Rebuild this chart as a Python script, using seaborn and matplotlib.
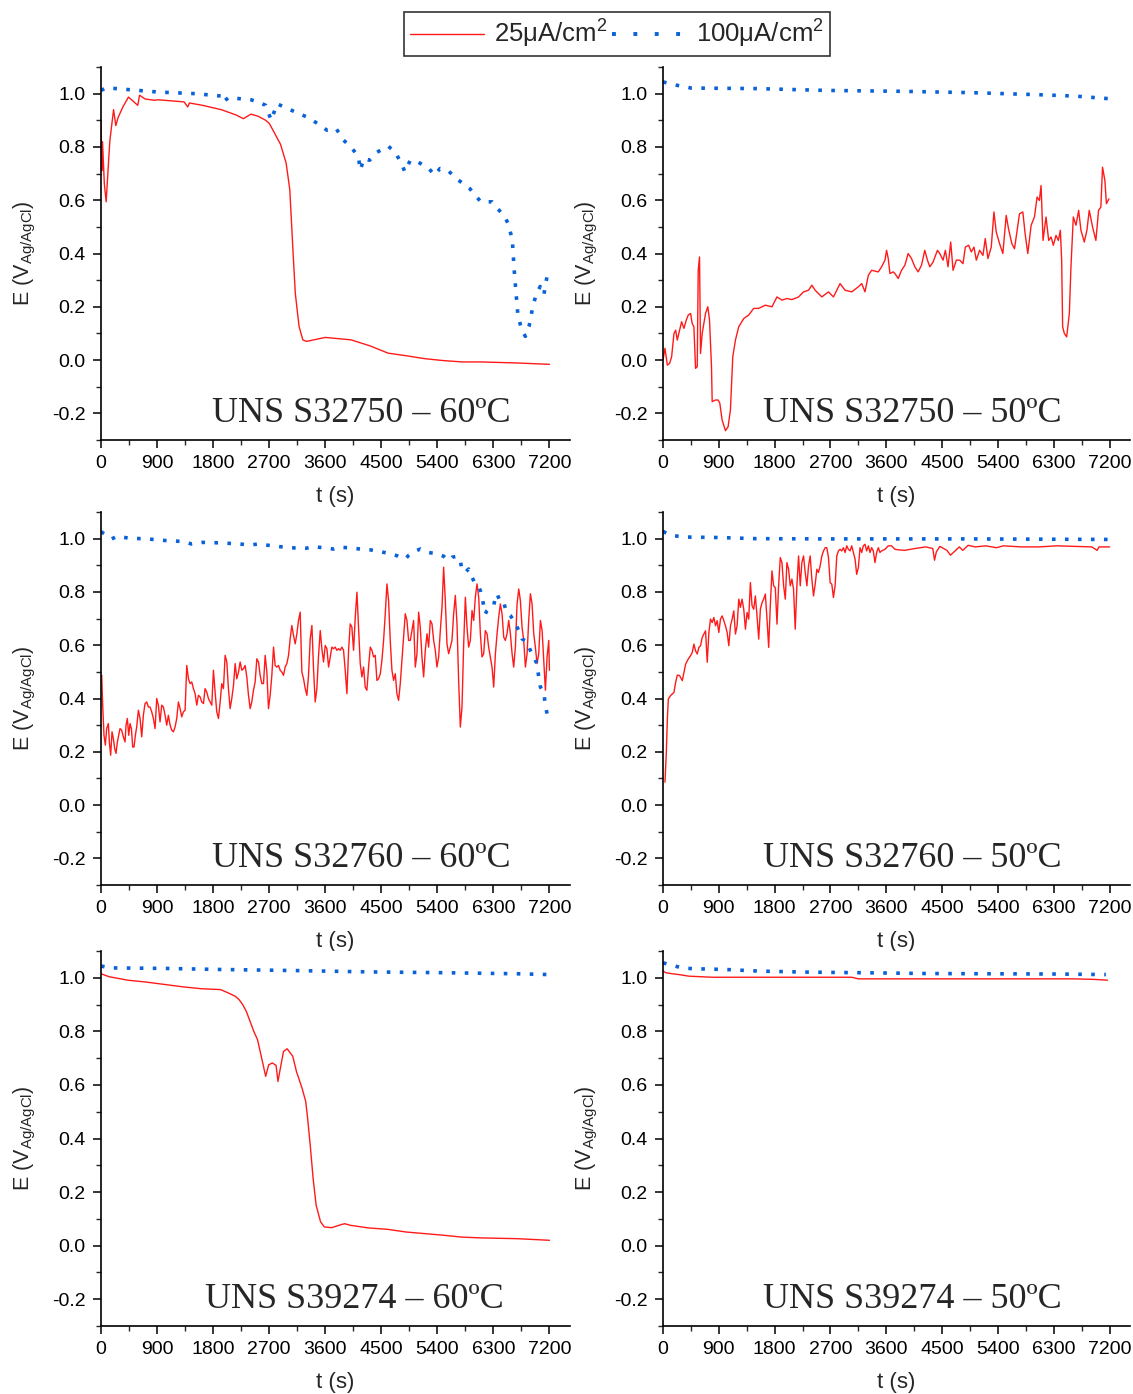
import numpy as np
import pandas as pd
import matplotlib
matplotlib.use("Agg")
import matplotlib.pyplot as plt
from matplotlib.lines import Line2D
from matplotlib.ticker import MultipleLocator
import seaborn as sns

# ---------------- data ----------------
x_ticks = [0, 900, 1800, 2700, 3600, 4500, 5400, 6300, 7200]
y_ticks = [-0.2, 0.0, 0.2, 0.4, 0.6, 0.8, 1.0]
series_labels = ["25\u03bcA/cm$^2$", "100\u03bcA/cm$^2$"]
panel_titles = ["UNS S32750 \u2013 60\u00baC", "UNS S32750 \u2013 50\u00baC",
                "UNS S32760 \u2013 60\u00baC", "UNS S32760 \u2013 50\u00baC",
                "UNS S39274 \u2013 60\u00baC", "UNS S39274 \u2013 50\u00baC"]

# Panel 1: UNS S32750 - 60C
p1_red_t = [0, 12, 24, 54, 83, 125, 143, 202, 238, 274,
            351, 441, 500, 590, 619, 708, 857, 917, 1334, 1393,
            1420, 1632, 1929, 2168, 2287, 2406, 2525, 2644, 2703, 2882,
            2972, 3031, 3090, 3120, 3180, 3240, 3300, 3600, 4013, 4311,
            4609, 4907, 5205, 5502, 5800, 6100, 6693, 7200]
p1_red_E = [0.90, 0.71, 0.82, 0.66, 0.594, 0.76, 0.825, 0.94, 0.88, 0.91,
            0.95, 0.987, 0.975, 0.956, 0.994, 0.98, 0.975, 0.977, 0.969, 0.95,
            0.965, 0.956, 0.94, 0.92, 0.906, 0.923, 0.915, 0.90, 0.888, 0.81,
            0.74, 0.64, 0.376, 0.25, 0.126, 0.076, 0.07, 0.085, 0.076, 0.054,
            0.026, 0.016, 0.005, -0.002, -0.007, -0.007, -0.011, -0.016]
p1_blue_t = [0, 83, 917, 1513, 1929, 1959, 2049, 2406, 2525, 2644,
             2733, 2793, 2823, 2942, 3120, 3299, 3478, 3627, 3775, 3895,
             4014, 4133, 4163, 4222, 4311, 4431, 4609, 4728, 4847, 4877,
             4966, 5086, 5264, 5354, 5443, 5562, 5741, 5919, 6098, 6277,
             6366, 6485, 6545, 6604, 6634, 6664, 6693, 6753, 6813, 6872,
             6932, 6991, 7051, 7110, 7170, 7200]
p1_blue_E = [1.012, 1.022, 1.006, 1.0, 0.991, 0.969, 0.985, 0.977, 0.969, 0.956,
             0.90, 0.94, 0.962, 0.95, 0.931, 0.913, 0.888, 0.863, 0.869, 0.825,
             0.80, 0.763, 0.713, 0.757, 0.75, 0.78, 0.803, 0.78, 0.725, 0.707,
             0.75, 0.744, 0.719, 0.694, 0.719, 0.713, 0.675, 0.644, 0.594, 0.594,
             0.569, 0.538, 0.507, 0.45, 0.338, 0.25, 0.17, 0.114, 0.089, 0.126,
             0.2, 0.25, 0.276, 0.245, 0.326, 0.33]

# Panel 2: UNS S32750 - 50C
p2_red_t = [0, 32, 70, 107, 139, 177, 204, 230, 268, 300,
            338, 375, 407, 445, 471, 498, 525, 552, 568, 589,
            605, 632, 686, 723, 750, 782, 793, 846, 889, 916,
            953, 1007, 1050, 1087, 1125, 1168, 1221, 1302, 1382, 1462,
            1543, 1650, 1757, 1837, 1918, 1998, 2078, 2186, 2266, 2346,
            2400, 2454, 2561, 2668, 2748, 2855, 2936, 3043, 3150, 3204,
            3257, 3311, 3364, 3471, 3525, 3579, 3605, 3632, 3659, 3712,
            3739, 3793, 3846, 3900, 3953, 4007, 4061, 4114, 4168, 4221,
            4264, 4302, 4355, 4425, 4462, 4516, 4553, 4596, 4639, 4677,
            4730, 4784, 4837, 4875, 4928, 4971, 5014, 5052, 5105, 5159,
            5196, 5239, 5293, 5336, 5373, 5427, 5480, 5534, 5571, 5625,
            5668, 5748, 5802, 5839, 5882, 5936, 5989, 6032, 6069, 6096,
            6128, 6176, 6219, 6257, 6294, 6337, 6375, 6407, 6428, 6444,
            6471, 6509, 6552, 6578, 6616, 6659, 6702, 6739, 6793, 6835,
            6873, 6927, 6980, 7023, 7060, 7087, 7125, 7150, 7190]
p2_red_E = [0.0, 0.044, -0.019, -0.012, 0.012, 0.1, 0.112, 0.075, 0.112, 0.144,
            0.119, 0.15, 0.169, 0.175, 0.137, 0.125, -0.031, -0.025, 0.337, 0.387,
            0.025, 0.1, 0.175, 0.2, 0.15, -0.025, -0.156, -0.15, -0.15, -0.162,
            -0.225, -0.265, -0.25, -0.187, 0.012, 0.075, 0.125, 0.156, 0.169, 0.194,
            0.194, 0.206, 0.2, 0.237, 0.225, 0.231, 0.227, 0.237, 0.256, 0.262,
            0.281, 0.262, 0.237, 0.256, 0.237, 0.287, 0.262, 0.256, 0.275, 0.287,
            0.256, 0.318, 0.337, 0.331, 0.35, 0.375, 0.412, 0.381, 0.325, 0.331,
            0.325, 0.306, 0.337, 0.356, 0.4, 0.381, 0.35, 0.331, 0.356, 0.412,
            0.375, 0.35, 0.368, 0.412, 0.4, 0.375, 0.412, 0.35, 0.443, 0.337,
            0.375, 0.375, 0.362, 0.424, 0.431, 0.406, 0.424, 0.375, 0.412, 0.393,
            0.456, 0.381, 0.424, 0.556, 0.481, 0.437, 0.4, 0.543, 0.493, 0.437,
            0.418, 0.549, 0.556, 0.474, 0.4, 0.506, 0.537, 0.612, 0.599, 0.655,
            0.449, 0.537, 0.449, 0.462, 0.431, 0.468, 0.449, 0.487, 0.375, 0.125,
            0.1, 0.087, 0.175, 0.35, 0.537, 0.506, 0.562, 0.487, 0.443, 0.487,
            0.562, 0.499, 0.449, 0.562, 0.574, 0.724, 0.674, 0.587, 0.605]
p2_blue_t = [0, 120, 230, 340, 450, 1500, 2650, 3780, 4920, 6060, 6630, 7200]
p2_blue_E = [1.044, 1.037, 1.031, 1.027, 1.021, 1.019, 1.012, 1.009, 1.004, 0.996, 0.991, 0.981]

# Panel 3: UNS S32760 - 60C
p3_red_t = [0, 11, 27, 48, 70, 91, 118, 134, 155, 177, 198, 220, 241, 263, 284, 305,
            332, 359, 386, 402, 423, 445, 466, 488, 509, 530, 552, 573, 600, 627,
            654, 680, 707, 734, 761, 787, 814, 841, 868, 895, 921, 948, 975, 1002,
            1029, 1055, 1082, 1109, 1136, 1163, 1189, 1216, 1243, 1270, 1296, 1323,
            1350, 1377, 1404, 1430, 1457, 1484, 1511, 1538, 1564, 1591, 1618, 1645,
            1671, 1698, 1725, 1752, 1779, 1805, 1832, 1859, 1886, 1913, 1939, 1966,
            1993, 2020, 2046, 2073, 2100, 2127, 2154, 2180, 2207, 2234, 2261, 2288,
            2314, 2341, 2368, 2395, 2421, 2448, 2475, 2502, 2529, 2555, 2582, 2609,
            2636, 2663, 2689, 2716, 2743, 2770, 2796, 2823, 2850, 2877, 2904, 2930,
            2957, 2984, 3011, 3037, 3064, 3091, 3118, 3145, 3171, 3198, 3225, 3252,
            3279, 3305, 3332, 3359, 3386, 3412, 3439, 3466, 3493, 3520, 3546, 3573,
            3600, 3627, 3654,
            3707, 3734, 3760, 3787, 3814, 3841, 3867, 3894, 3921, 3948, 3975, 4001,
            4028, 4055, 4082, 4109, 4135, 4162, 4189, 4216, 4242, 4269, 4296, 4323,
            4350, 4376, 4403, 4430, 4457, 4484, 4510, 4537, 4564, 4591, 4617, 4644,
            4671, 4698, 4725, 4751, 4778, 4805, 4832, 4859, 4885, 4912, 4939, 4966,
            4992, 5019, 5046, 5073, 5100, 5126, 5153, 5180, 5207, 5234, 5260, 5287,
            5314, 5341, 5367, 5394, 5421, 5448, 5475, 5501, 5528, 5555, 5582, 5609,
            5635, 5662, 5689, 5716, 5742, 5769, 5796, 5823, 5850, 5876, 5903, 5930,
            5957, 5984, 6010, 6037, 6064, 6091, 6117, 6144, 6171, 6198, 6224, 6251,
            6278, 6305, 6332, 6359, 6385, 6412, 6439, 6466, 6492, 6519, 6546, 6573,
            6600, 6626, 6653, 6680, 6707, 6733, 6760, 6787, 6814, 6841, 6867, 6894,
            6921, 6948, 6974, 7001, 7028, 7055, 7082, 7108, 7135, 7162, 7189, 7200]
p3_red_E = [0.48, 0.487, 0.375, 0.262, 0.225, 0.287, 0.306, 0.237, 0.187, 0.275, 0.25, 0.212,
            0.194, 0.237, 0.262, 0.287, 0.281, 0.256, 0.237, 0.3, 0.325, 0.262, 0.306,
            0.287, 0.218, 0.218, 0.262, 0.293, 0.356, 0.325, 0.256, 0.337, 0.381, 0.387,
            0.368, 0.368, 0.35, 0.325, 0.287, 0.4, 0.375, 0.312, 0.375, 0.368, 0.337,
            0.3, 0.337, 0.3, 0.281, 0.275, 0.293, 0.325, 0.387, 0.362, 0.331, 0.35,
            0.356, 0.524, 0.474, 0.456, 0.462, 0.437, 0.418, 0.375, 0.412, 0.406,
            0.387, 0.381, 0.437, 0.424, 0.4, 0.387, 0.375, 0.506, 0.424, 0.35, 0.325,
            0.387, 0.456, 0.437, 0.562, 0.537, 0.437, 0.362, 0.4, 0.449, 0.531, 0.474,
            0.499, 0.537, 0.506, 0.512, 0.524, 0.481, 0.412, 0.362, 0.387, 0.431,
            0.462, 0.549, 0.537, 0.487, 0.456, 0.456, 0.562, 0.499, 0.362, 0.412,
            0.487, 0.593, 0.524, 0.518, 0.524, 0.506, 0.499, 0.487, 0.518, 0.531,
            0.562, 0.624, 0.674, 0.637, 0.605, 0.643, 0.693, 0.724, 0.499, 0.474,
            0.437, 0.412, 0.487, 0.624, 0.674, 0.512, 0.387, 0.437, 0.562, 0.655,
            0.587, 0.537, 0.599, 0.587, 0.518,
            0.593, 0.587, 0.593, 0.581, 0.587, 0.581, 0.593, 0.581, 0.506, 0.418, 0.581, 0.68,
            0.668, 0.581, 0.705, 0.799, 0.668, 0.531, 0.481, 0.518, 0.443, 0.431, 0.518, 0.593,
            0.581, 0.556, 0.562, 0.468, 0.474, 0.493, 0.543, 0.618, 0.718, 0.83, 0.768, 0.618,
            0.506, 0.468, 0.493, 0.418, 0.393, 0.456, 0.543, 0.63, 0.718, 0.693, 0.618, 0.618,
            0.655, 0.693, 0.518, 0.568, 0.724, 0.668, 0.556, 0.481, 0.581, 0.643, 0.593, 0.693,
            0.68, 0.618, 0.581, 0.518, 0.556, 0.655, 0.743, 0.893, 0.768, 0.605, 0.568, 0.593,
            0.618, 0.718, 0.787, 0.68, 0.468, 0.293, 0.368, 0.605, 0.78, 0.668, 0.593, 0.618,
            0.73, 0.693, 0.78, 0.83, 0.78, 0.643, 0.556, 0.568, 0.655, 0.643, 0.593, 0.556,
            0.518, 0.443, 0.568, 0.643, 0.705, 0.755, 0.718, 0.63, 0.618, 0.643, 0.693, 0.643,
            0.568, 0.518, 0.593, 0.755, 0.811, 0.768, 0.668, 0.618, 0.518, 0.568, 0.693, 0.793,
            0.755, 0.643, 0.593, 0.531, 0.568, 0.693, 0.655, 0.543, 0.431, 0.556, 0.618, 0.506]
p3_blue_t = [0, 83, 172, 262, 440, 737, 1035, 1332, 1451, 1629, 1927, 2224, 2402, 2521,
             2818, 3116, 3294, 3413, 3591, 3734, 3841, 4001, 4162, 4323, 4484, 4617, 4751,
             4832, 4885, 4939, 4992, 5046, 5126, 5234, 5394, 5501, 5582, 5635, 5716, 5769,
             5796, 5850, 5903, 5957, 6010, 6064, 6091, 6117, 6144, 6171, 6198, 6251, 6305,
             6332, 6359, 6412, 6466, 6508, 6573, 6626, 6680, 6733, 6760, 6841, 6894, 6948,
             7001, 7028, 7055, 7108, 7135, 7173]
p3_blue_E = [1.026, 1.014, 0.999, 1.009, 1.002, 0.999, 0.993, 0.989, 0.98, 0.986, 0.984, 0.98,
             0.976, 0.98, 0.971, 0.965, 0.964, 0.97, 0.965, 0.961, 0.968, 0.965, 0.961, 0.958,
             0.951, 0.945, 0.936, 0.927, 0.924, 0.937, 0.945, 0.953, 0.961, 0.949, 0.943, 0.934,
             0.918, 0.93, 0.934, 0.918, 0.88, 0.874, 0.886, 0.855, 0.83, 0.818, 0.805, 0.78,
             0.749, 0.718, 0.73, 0.743, 0.749, 0.78, 0.793, 0.761, 0.761, 0.724, 0.711, 0.693,
             0.668, 0.643, 0.624, 0.612, 0.58, 0.555, 0.53, 0.48, 0.443, 0.424, 0.374, 0.33]

# Panel 4: UNS S32760 - 50C
p4_red_t = [32, 54, 70, 86, 123, 177, 204, 231, 268, 311, 338, 365, 407, 445, 472, 498,
            525, 552, 579, 606, 632, 659, 686, 713, 740, 766, 793, 820, 847, 873, 900,
            927, 954, 981, 1007, 1034, 1061, 1088, 1115, 1141, 1168, 1195, 1222, 1248,
            1275, 1302, 1329, 1356, 1382, 1409, 1436, 1463, 1489, 1516, 1543, 1570, 1597,
            1623, 1650, 1677, 1704, 1730, 1757, 1784, 1811, 1838, 1864, 1891, 1918, 1945,
            1972, 1998, 2025, 2052, 2079, 2105, 2132, 2159, 2186, 2213, 2239, 2266, 2293,
            2320, 2347, 2373, 2400, 2427, 2454, 2481, 2507, 2534, 2561, 2588, 2615, 2641,
            2668, 2695, 2722, 2748, 2775, 2802, 2829, 2856, 2882, 2909, 2936, 2963, 2989,
            3016, 3043, 3070, 3097, 3123, 3150, 3177, 3204, 3230, 3257, 3284, 3311, 3338,
            3364, 3391, 3418, 3445, 3472, 3498, 3525, 3579, 3632, 3686, 3739, 3793,
            3894, 4065, 4236, 4350, 4378, 4407, 4464, 4578, 4635, 4692, 4777, 4834, 4920,
            5034, 5205, 5376, 5490, 5775, 6060, 6345, 6630, 6915, 7001, 7029, 7200]
p4_red_E = [0.086, 0.199, 0.323, 0.398, 0.411, 0.423, 0.461, 0.488, 0.486, 0.467, 0.498,
            0.529, 0.548, 0.561, 0.573, 0.604, 0.579, 0.567, 0.592, 0.598, 0.629, 0.642,
            0.654, 0.536, 0.648, 0.698, 0.685, 0.704, 0.673, 0.692, 0.648, 0.698, 0.71,
            0.692, 0.673, 0.648, 0.598, 0.673, 0.698, 0.729, 0.642, 0.673, 0.773, 0.742,
            0.773, 0.735, 0.66, 0.723, 0.698, 0.835, 0.748, 0.735, 0.785, 0.71, 0.623,
            0.735, 0.76, 0.773, 0.792, 0.698, 0.592, 0.748, 0.879, 0.823, 0.816, 0.679,
            0.823, 0.929, 0.91, 0.823, 0.773, 0.91, 0.885, 0.823, 0.848, 0.81, 0.66,
            0.823, 0.935, 0.823, 0.91, 0.935, 0.873, 0.823, 0.898, 0.935, 0.848, 0.785,
            0.829, 0.885, 0.873, 0.898, 0.935, 0.954, 0.966, 0.966, 0.929, 0.835, 0.829,
            0.779, 0.823, 0.935, 0.954, 0.96, 0.954, 0.966, 0.948, 0.973, 0.96, 0.954,
            0.973, 0.948, 0.923, 0.866, 0.891, 0.966, 0.948, 0.973, 0.979, 0.954, 0.973,
            0.948, 0.966, 0.954, 0.91, 0.948, 0.966, 0.948, 0.954, 0.96, 0.973, 0.973,
            0.96, 0.958,
            0.956, 0.963, 0.969, 0.963, 0.919, 0.95, 0.971, 0.956, 0.938, 0.95, 0.969,
            0.956, 0.975, 0.969, 0.973, 0.966, 0.973, 0.969, 0.969, 0.973, 0.971, 0.969,
            0.956, 0.969, 0.969]
p4_blue_t = [0, 131, 359, 929, 1499, 2640, 3780, 4920, 6060, 7200]
p4_blue_E = [1.027, 1.012, 1.006, 1.004, 1.0, 0.999, 0.999, 0.999, 0.998, 0.997]

# Panel 5: UNS S39274 - 60C
p5_red_t = [0, 131, 429, 726, 1024, 1322, 1620, 1918, 2037, 2156, 2215, 2275, 2334,
            2394, 2453, 2513, 2573, 2644, 2692, 2751, 2811, 2841, 2870, 2930, 2989,
            3079, 3138, 3228, 3287, 3317, 3359, 3406, 3454, 3525, 3585, 3704, 3793,
            3912, 4002, 4299, 4597, 4895, 5193, 5490, 5788, 6086, 6681, 7200]
p5_red_E = [1.015, 1.004, 0.991, 0.984, 0.975, 0.966, 0.959, 0.956, 0.944, 0.931, 0.919,
            0.9, 0.874, 0.837, 0.8, 0.769, 0.707, 0.632, 0.675, 0.682, 0.673, 0.613,
            0.65, 0.725, 0.735, 0.707, 0.65, 0.588, 0.538, 0.476, 0.376, 0.25, 0.151,
            0.089, 0.07, 0.067, 0.074, 0.082, 0.076, 0.066, 0.061, 0.051, 0.045, 0.039,
            0.032, 0.029, 0.026, 0.02]
p5_blue_t = [0, 131, 1024, 1918, 3109, 4299, 5490, 6681, 7200]
p5_blue_E = [1.044, 1.037, 1.035, 1.031, 1.027, 1.022, 1.019, 1.015, 1.012]

# Panel 6: UNS S39274 - 50C
p6_red_t = [0, 43, 150, 257, 418, 793, 1543, 3043, 3150, 3686, 5293, 6632, 6954, 7168]
p6_red_E = [1.025, 1.019, 1.015, 1.012, 1.006, 1.002, 1.002, 1.002, 0.996, 0.996, 0.996,
            0.996, 0.994, 0.991]
p6_blue_t = [0, 150, 311, 472, 1007, 1543, 2347, 3150, 4222, 5293, 6364, 7141]
p6_blue_E = [1.056, 1.046, 1.037, 1.034, 1.031, 1.025, 1.021, 1.019, 1.016, 1.015, 1.014, 1.012]

panels = [
    (p1_red_t, p1_red_E, p1_blue_t, p1_blue_E),
    (p2_red_t, p2_red_E, p2_blue_t, p2_blue_E),
    (p3_red_t, p3_red_E, p3_blue_t, p3_blue_E),
    (p4_red_t, p4_red_E, p4_blue_t, p4_blue_E),
    (p5_red_t, p5_red_E, p5_blue_t, p5_blue_E),
    (p6_red_t, p6_red_E, p6_blue_t, p6_blue_E),
]

# ---------------- style ----------------
sns.set_theme(style="ticks")
plt.rcParams["font.family"] = ["Liberation Sans", "DejaVu Sans"]
plt.rcParams["mathtext.fontset"] = "custom"
plt.rcParams["mathtext.rm"] = "Liberation Sans"
plt.rcParams["mathtext.it"] = "Liberation Sans:italic"
plt.rcParams["axes.unicode_minus"] = False

RED = "#ff1a1a"
BLUE = "#0a62d8"
DOT = (0, (1, 2.6))

fig = plt.figure(figsize=(11.33, 13.94), dpi=100)
W, H = 1133, 1394
col_px = [(101, 570), (663, 1130)]
row_px = [(67, 440), (512, 885), (951, 1326)]
title_x = [0.555, 0.533, 0.555, 0.533, 0.54, 0.533]

for i, (rt, rE, bt, bE) in enumerate(panels):
    r, c = divmod(i, 2)
    x0, x1 = col_px[c]
    y0, y1 = row_px[r]
    ax = fig.add_axes([x0 / W, (H - y1) / H, (x1 - x0) / W, (y1 - y0) / H])
    red_df = pd.DataFrame({"t": rt, "E": rE})
    blue_df = pd.DataFrame({"t": bt, "E": bE})
    sns.lineplot(data=red_df, x="t", y="E", ax=ax, color=RED, lw=1.0,
                 estimator=None, sort=False, legend=False)
    sns.lineplot(data=blue_df, x="t", y="E", ax=ax, color=BLUE, lw=2.6,
                 estimator=None, sort=False, legend=False)
    ax.lines[-1].set_linestyle(DOT)
    ax.set_xlim(0, 7530)
    ax.set_ylim(-0.3, 1.1)
    ax.set_xticks(x_ticks)
    ax.set_yticks(y_ticks)
    ax.set_yticklabels([f"{v:.1f}" for v in y_ticks])
    ax.xaxis.set_minor_locator(MultipleLocator(450))
    ax.yaxis.set_minor_locator(MultipleLocator(0.1))
    ax.tick_params(which="major", direction="out", length=6, width=1.1,
                   labelsize=14, colors="black", pad=5)
    ax.tick_params(which="minor", direction="out", length=3.5, width=1.0)
    for s in ["top", "right"]:
        ax.spines[s].set_visible(False)
    for s in ["left", "bottom"]:
        ax.spines[s].set_linewidth(1.2)
        ax.spines[s].set_color("black")
    ax.set_xlabel("t (s)", fontsize=16, labelpad=10)
    ax.set_ylabel(r"E (V$_{\mathrm{Ag/AgCl}}$)", fontsize=15.5, labelpad=10)
    ax.text(title_x[i], 0.07, panel_titles[i], transform=ax.transAxes,
            ha="center", va="center", fontsize=26, family="Liberation Serif")

handles = [Line2D([], [], color=RED, lw=1.0),
           Line2D([], [], color=BLUE, lw=2.8, linestyle=(0, (1, 4.5)))]
leg = fig.legend(handles, series_labels, loc="center", bbox_to_anchor=(0.5445, 0.9755),
                 ncol=2, frameon=True, fancybox=False, edgecolor="black", fontsize=18.5,
                 handlelength=2.9, columnspacing=0.15, handletextpad=0.4, borderpad=0.22)
leg.get_frame().set_linewidth(1.2)

fig.savefig("out.png", dpi=100)
